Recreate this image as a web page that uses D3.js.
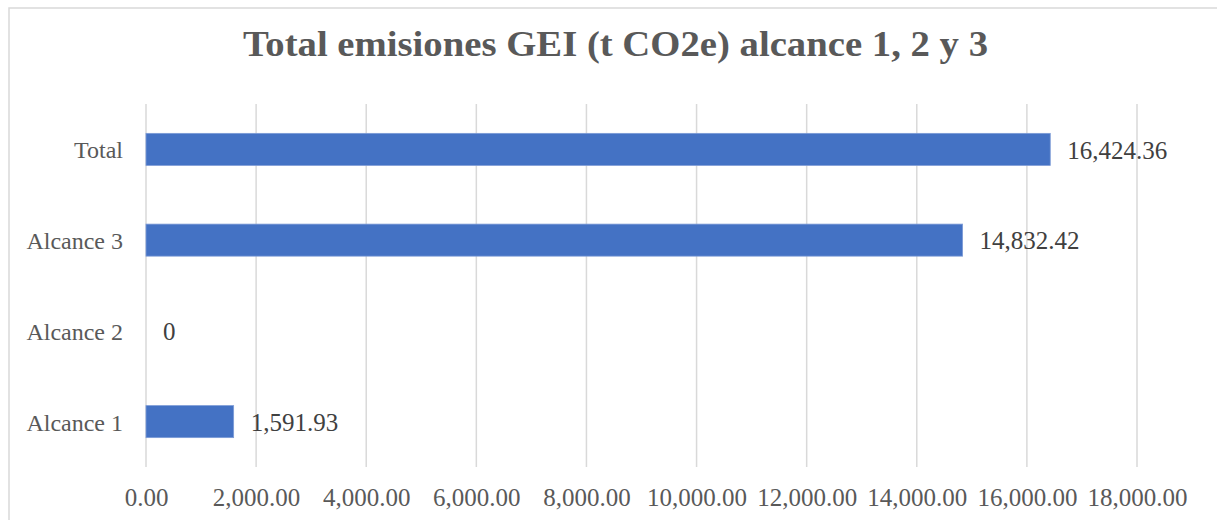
<!DOCTYPE html>
<html>
<head>
<meta charset="utf-8">
<script src="https://cdn.jsdelivr.net/npm/d3@7"></script>
<style>
  body { margin: 0; background: #fff; }
  svg text { font-family: "Liberation Serif", serif; }
</style>
</head>
<body>
<svg id="chart" width="1217" height="520"></svg>
<script>
// data
const categories = ['Total', 'Alcance 3', 'Alcance 2', 'Alcance 1'];
const values = [16424.36, 14832.42, 0, 1591.93];
const valueLabels = ['16,424.36', '14,832.42', '0', '1,591.93'];
const tickValues = [0, 2000, 4000, 6000, 8000, 10000, 12000, 14000, 16000, 18000];
const title = 'Total emisiones GEI (t CO2e) alcance 1, 2 y 3';

let svg = d3.select('#chart'),
    margin = {top: 104, left: 146, right: 80, bottom: 53},
    width = 1137 - margin.left,
    height = 467 - margin.top;

// chart frame
svg.append('rect')
  .attr('x', 9).attr('y', 8)
  .attr('width', 1230).attr('height', 540)
  .attr('fill', '#fff')
  .attr('stroke', '#d9d9d9')
  .attr('stroke-width', 1.5);

svg.append('text')
  .attr('x', 615.5).attr('y', 56)
  .attr('text-anchor', 'middle')
  .attr('font-size', 36)
  .attr('font-weight', 'bold')
  .attr('fill', '#595959')
  .attr('textLength', 745)
  .attr('lengthAdjust', 'spacingAndGlyphs')
  .text(title);

let x = d3.scaleLinear().domain([0, 18000]).range([0, width]);
let y = d3.scaleBand().domain(categories).range([0, height]).paddingInner(0.647).paddingOuter(0.3235);

let g = svg.append('g').attr('transform', 'translate(' + margin.left + ',' + margin.top + ')');

// gridlines
g.selectAll('.grid')
  .data(tickValues)
  .enter().append('line')
  .attr('class', 'grid')
  .attr('x1', d => x(d)).attr('x2', d => x(d))
  .attr('y1', 0).attr('y2', height)
  .attr('stroke', '#d9d9d9')
  .attr('stroke-width', 1.5);

// x axis labels
let xAxis = d3.axisBottom(x).tickValues(tickValues).tickSize(0).tickPadding(0)
  .tickFormat(d3.format(',.2f'));
let xg = g.append('g').attr('transform', 'translate(0,' + height + ')').call(xAxis);
xg.select('.domain').remove();
xg.selectAll('text')
  .attr('y', 39).attr('dy', 0)
  .attr('font-size', 25)
  .attr('font-family', '"Liberation Serif", serif')
  .attr('fill', '#595959');

// y axis labels
let yAxis = d3.axisLeft(y).tickSize(0).tickPadding(23);
let yg = g.append('g').call(yAxis);
yg.select('.domain').remove();
yg.selectAll('text')
  .attr('dy', '0.37em')
  .attr('font-size', 24)
  .attr('font-family', '"Liberation Serif", serif')
  .attr('fill', '#595959');

let rows = categories.map((c, i) => ({cat: c, value: values[i], label: valueLabels[i]}));

g.selectAll('.bar')
  .data(rows)
  .enter().append('rect')
  .attr('class', 'bar')
  .attr('x', x(0))
  .attr('y', d => y(d.cat))
  .attr('width', d => x(d.value) - x(0))
  .attr('height', y.bandwidth())
  .attr('fill', '#4472c4')
  .attr('stroke', d => d.value > 0 ? '#7d9bd6' : 'none')
  .attr('stroke-width', 0.8);

g.selectAll('.vlabel')
  .data(rows)
  .enter().append('text')
  .attr('class', 'vlabel')
  .attr('x', d => x(d.value) + 17)
  .attr('y', d => y(d.cat) + y.bandwidth() / 2)
  .attr('dy', '0.37em')
  .attr('font-size', 25)
  .attr('fill', '#404040')
  .text(d => d.label);
</script>
</body>
</html>
